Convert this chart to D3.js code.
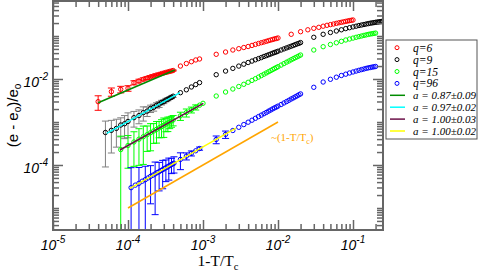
<!DOCTYPE html>
<html>
<head>
<meta charset="utf-8">
<script src="https://cdn.jsdelivr.net/npm/d3@7"></script>
<style>
  html, body { margin: 0; padding: 0; background: #fff; }
  svg { display: block; }
</style>
</head>
<body>
<div id="chart"></div>
<script>
'use strict';

// each point: [1 - T/Tc, (e - eo)/eo, error]
const q6Points = [
    [4e-5, 2.97e-3, 1.1e-3], [6e-5, 5.07e-3, 1.1e-3], [8e-5, 5.75e-3, 1.0e-3], [1e-4, 6.08e-3, 0.9e-3],
    [1.2e-4, 8.2e-3, 0.9e-3], [1.4e-4, 8.98e-3, 0.9e-3], [1.6e-4, 9.84e-3, 0.8e-3], [1.8e-4, 1.055e-2, 0.8e-3],
    [2e-4, 1.125e-2, 0.7e-3], [2.2e-4, 1.186e-2, 0.7e-3], [2.4e-4, 1.24e-2, 0.6e-3], [2.6e-4, 1.285e-2, 0.6e-3],
    [2.8e-4, 1.336e-2, 0.5e-3], [3e-4, 1.38e-2, 0.5e-3], [3.2e-4, 1.424e-2, 0.5e-3], [3.4e-4, 1.462e-2, 0.4e-3],
    [3.6e-4, 1.502e-2, 0.4e-3], [3.8e-4, 1.535e-2, 0.4e-3], [4e-4, 1.577e-2, 0.4e-3],
    [5e-4, 2.0e-2, 0], [6e-4, 2.29e-2, 0], [7e-4, 2.52e-2, 0], [8e-4, 2.77e-2, 0], [9e-4, 2.92e-2, 0],
    [1.5e-3, 3.75e-2, 0], [2e-3, 4.24e-2, 0], [2.5e-3, 4.72e-2, 0], [3e-3, 5.07e-2, 0], [3.5e-3, 5.4e-2, 0],
    [4e-3, 5.7e-2, 0], [4.5e-3, 6.04e-2, 0], [5e-3, 6.38e-2, 0], [5.5e-3, 6.7e-2, 0], [6e-3, 6.99e-2, 0],
    [6.5e-3, 7.25e-2, 0], [7e-3, 7.53e-2, 0], [7.5e-3, 7.81e-2, 0], [8e-3, 8.07e-2, 0], [8.5e-3, 8.3e-2, 0],
    [9e-3, 8.57e-2, 0], [9.5e-3, 8.75e-2, 0], [1e-2, 8.98e-2, 0],
    [1.5e-2, 0.1096, 0], [2e-2, 0.1259, 0], [2.5e-2, 0.1394, 0], [3e-2, 0.151, 0], [3.5e-2, 0.159, 0],
    [4e-2, 0.169, 0], [4.5e-2, 0.1774, 0], [5e-2, 0.184, 0], [5.5e-2, 0.19, 0], [6e-2, 0.197, 0],
    [6.5e-2, 0.203, 0], [7e-2, 0.2083, 0], [7.5e-2, 0.2138, 0], [8e-2, 0.2186, 0], [8.5e-2, 0.2234, 0],
    [9e-2, 0.228, 0], [9.5e-2, 0.232, 0], [0.1, 0.2355, 0]
];

const q9Points = [
    [5e-5, 5.7e-4, 4.8e-4], [6e-5, 6.4e-4, 4.5e-4], [7e-5, 7.1e-4, 4.5e-4], [8e-5, 8.5e-4, 4.0e-4],
    [9e-5, 9.1e-4, 5.0e-4], [1e-4, 1.03e-3, 6.0e-4], [1.2e-4, 1.26e-3, 5.0e-4], [1.4e-4, 1.41e-3, 5.0e-4],
    [1.6e-4, 1.65e-3, 6.0e-4], [1.8e-4, 1.79e-3, 4.5e-4], [2e-4, 2.06e-3, 4.0e-4], [2.2e-4, 2.19e-3, 4.0e-4],
    [2.4e-4, 2.45e-3, 3.5e-4], [2.6e-4, 2.58e-3, 4.0e-4], [2.8e-4, 2.84e-3, 3.5e-4], [3e-4, 2.97e-3, 3.0e-4],
    [3.2e-4, 3.24e-3, 3.0e-4], [3.4e-4, 3.36e-3, 2.5e-4], [3.6e-4, 3.6e-3, 2.5e-4], [3.8e-4, 3.74e-3, 2.5e-4],
    [4e-4, 3.98e-3, 2.5e-4],
    [5e-4, 4.8e-3, 0], [6e-4, 5.61e-3, 0], [7e-4, 6.52e-3, 0], [8e-4, 7.41e-3, 0], [9e-4, 8.24e-3, 0],
    [1.5e-3, 1.259e-2, 0], [2e-3, 1.528e-2, 0], [2.5e-3, 1.766e-2, 0], [3e-3, 1.995e-2, 0], [3.5e-3, 2.21e-2, 0],
    [4e-3, 2.42e-2, 0], [4.5e-3, 2.61e-2, 0], [5e-3, 2.8e-2, 0], [5.5e-3, 2.98e-2, 0], [6e-3, 3.15e-2, 0],
    [6.5e-3, 3.34e-2, 0], [7e-3, 3.5e-2, 0], [7.5e-3, 3.66e-2, 0], [8e-3, 3.81e-2, 0], [8.5e-3, 3.98e-2, 0],
    [9e-3, 4.13e-2, 0], [9.5e-3, 4.27e-2, 0], [1e-2, 4.43e-2, 0],
    [1.1e-2, 4.72e-2, 0], [1.2e-2, 5.01e-2, 0], [1.3e-2, 5.28e-2, 0], [1.4e-2, 5.54e-2, 0], [1.5e-2, 5.79e-2, 0],
    [1.6e-2, 6.04e-2, 0], [1.7e-2, 6.31e-2, 0], [1.8e-2, 6.55e-2, 0], [1.9e-2, 6.76e-2, 0], [2e-2, 7.03e-2, 0],
    [3e-2, 9.33e-2, 0], [4e-2, 0.1095, 0], [5e-2, 0.1206, 0], [6e-2, 0.1307, 0], [7e-2, 0.1394, 0],
    [8e-2, 0.1486, 0], [9e-2, 0.156, 0], [0.1, 0.1627, 0], [0.11, 0.169, 0], [0.12, 0.1754, 0],
    [0.13, 0.1802, 0], [0.14, 0.185, 0], [0.15, 0.1901, 0], [0.16, 0.1942, 0], [0.17, 0.1984, 0],
    [0.18, 0.2017, 0], [0.19, 0.2049, 0], [0.2, 0.2083, 0], [0.21, 0.2105, 0], [0.22, 0.2128, 0],
    [0.23, 0.2151, 0], [0.24, 0.2174, 0], [0.25, 0.2198, 0]
];

const q15Points = [
    [8e-5, 2.28e-4, 2.4e-4], [1e-4, 2.84e-4, 2.0e-4], [1.2e-4, 3.43e-4, 2.5e-4], [1.4e-4, 3.98e-4, 3.0e-4],
    [1.6e-4, 4.53e-4, 3.5e-4], [1.8e-4, 5.07e-4, 3.0e-4], [2e-4, 5.64e-4, 3.5e-4], [2.2e-4, 6.18e-4, 3.0e-4],
    [2.4e-4, 6.73e-4, 3.5e-4], [2.6e-4, 7.3e-4, 3.0e-4], [2.8e-4, 7.82e-4, 3.5e-4], [3e-4, 8.38e-4, 4.0e-4],
    [3.2e-4, 8.93e-4, 3.0e-4], [3.4e-4, 9.48e-4, 3.5e-4], [3.6e-4, 1.0e-3, 3.0e-4], [3.8e-4, 1.055e-3, 3.0e-4],
    [4e-4, 1.113e-3, 3.0e-4],
    [5e-4, 1.387e-3, 3.0e-4], [6e-4, 1.655e-3, 3.5e-4], [7e-4, 1.922e-3, 3.0e-4], [8e-4, 2.2e-3, 3.0e-4],
    [9e-4, 2.46e-3, 0], [1e-3, 2.72e-3, 0],
    [1.5e-3, 4.02e-3, 0], [2e-3, 4.98e-3, 0], [2.5e-3, 5.85e-3, 0], [3e-3, 6.69e-3, 0], [3.5e-3, 7.53e-3, 0],
    [4e-3, 8.38e-3, 0], [4.5e-3, 9.28e-3, 0], [5e-3, 1.016e-2, 0], [5.5e-3, 1.107e-2, 0], [6e-3, 1.2e-2, 0],
    [6.5e-3, 1.293e-2, 0], [7e-3, 1.386e-2, 0], [7.5e-3, 1.478e-2, 0], [8e-3, 1.568e-2, 0], [8.5e-3, 1.663e-2, 0],
    [9e-3, 1.755e-2, 0], [9.5e-3, 1.841e-2, 0], [1e-2, 1.932e-2, 0],
    [1.1e-2, 2.105e-2, 0], [1.2e-2, 2.28e-2, 0], [1.3e-2, 2.46e-2, 0], [1.4e-2, 2.62e-2, 0], [1.5e-2, 2.8e-2, 0],
    [1.6e-2, 2.97e-2, 0], [1.7e-2, 3.13e-2, 0], [1.8e-2, 3.28e-2, 0], [1.9e-2, 3.44e-2, 0], [2e-2, 3.61e-2, 0],
    [3e-2, 4.72e-2, 0], [4e-2, 5.64e-2, 0], [5e-2, 6.34e-2, 0], [6e-2, 6.95e-2, 0], [7e-2, 7.52e-2, 0],
    [8e-2, 8.07e-2, 0], [9e-2, 8.51e-2, 0], [0.1, 8.94e-2, 0], [0.11, 9.33e-2, 0], [0.12, 9.68e-2, 0],
    [0.13, 0.1, 0], [0.14, 0.1033, 0], [0.15, 0.1061, 0], [0.16, 0.1089, 0], [0.17, 0.1113, 0],
    [0.18, 0.1131, 0], [0.19, 0.1149, 0], [0.2, 0.1168, 0]
];

const q96Points = [
    [1.1e-4, 2.97e-5, 5.7e-5], [1.25e-4, 3.4e-5, 0], [1.4e-4, 3.75e-5, 5.0e-5], [1.55e-4, 4.2e-5, 0],
    [1.7e-4, 4.55e-5, 4.8e-5], [1.85e-4, 5.0e-5, 0], [2e-4, 5.45e-5, 4.2e-5], [2.15e-4, 5.8e-5, 0],
    [2.3e-4, 6.2e-5, 5.5e-5], [2.45e-4, 6.65e-5, 0], [2.6e-4, 7.0e-5, 4.5e-5], [2.75e-4, 7.45e-5, 0],
    [2.9e-4, 7.8e-5, 5.0e-5], [3.05e-4, 8.25e-5, 0], [3.2e-4, 8.6e-5, 4.5e-5], [3.35e-4, 9.05e-5, 0],
    [3.5e-4, 9.45e-5, 5.0e-5], [3.65e-4, 9.85e-5, 0], [3.8e-4, 1.03e-4, 4.0e-5], [3.95e-4, 1.07e-4, 0],
    [4.1e-4, 1.1e-4, 4.5e-5],
    [5e-4, 1.349e-4, 5.7e-5], [6e-4, 1.61e-4, 3.0e-5], [7e-4, 1.87e-4, 2.5e-5], [8e-4, 2.14e-4, 0],
    [9e-4, 2.41e-4, 2.0e-5],
    [1.5e-3, 3.92e-4, 8e-5], [2e-3, 5.15e-4, 1.0e-4], [2.5e-3, 6.34e-4, 0], [3e-3, 7.53e-4, 0], [3.5e-3, 8.71e-4, 0],
    [4e-3, 9.89e-4, 0], [4.5e-3, 1.101e-3, 0], [5e-3, 1.219e-3, 0], [5.5e-3, 1.336e-3, 0], [6e-3, 1.445e-3, 0],
    [6.5e-3, 1.559e-3, 0], [7e-3, 1.671e-3, 0], [7.5e-3, 1.791e-3, 0], [8e-3, 1.9e-3, 0], [8.5e-3, 2.02e-3, 0],
    [9e-3, 2.13e-3, 0], [9.5e-3, 2.23e-3, 0], [1e-2, 2.34e-3, 0],
    [1.1e-2, 2.55e-3, 0], [1.2e-2, 2.77e-3, 0], [1.3e-2, 2.98e-3, 0], [1.4e-2, 3.2e-3, 0], [1.5e-2, 3.43e-3, 0],
    [1.6e-2, 3.63e-3, 0], [1.7e-2, 3.85e-3, 0], [1.8e-2, 4.06e-3, 0], [1.9e-2, 4.29e-3, 0], [2e-2, 4.5e-3, 0],
    [3e-2, 6.41e-3, 0], [4e-2, 8.51e-3, 0], [5e-2, 9.84e-3, 0], [6e-2, 1.101e-2, 0], [7e-2, 1.206e-2, 0],
    [8e-2, 1.294e-2, 0], [9e-2, 1.38e-2, 0], [0.1, 1.456e-2, 0], [0.11, 1.528e-2, 0], [0.12, 1.594e-2, 0],
    [0.13, 1.655e-2, 0], [0.14, 1.709e-2, 0], [0.15, 1.766e-2, 0], [0.16, 1.813e-2, 0], [0.17, 1.851e-2, 0],
    [0.18, 1.891e-2, 0], [0.19, 1.922e-2, 0], [0.2, 1.954e-2, 0]
];

const seriesNames = ['q=6', 'q=9', 'q=15', 'q=96'];
const seriesColours = ['#ff0000', '#000000', '#00ff00', '#0000ff'];
const barColours = ['#ff0000', '#808080', '#00ff00', '#0000ff'];
const seriesPoints = [q6Points, q9Points, q15Points, q96Points];

// power-law fits drawn over the low end of each set: [start, end] as [t, value]
const fitLabels = ['a = 0.87±0.09', 'a = 0.97±0.02', 'a = 1.00±0.03', 'a = 1.00±0.02'];
const fitColours = ['#008b00', '#00ffff', '#6b1048', '#ffff00'];
const fitEnds = [
    [[4.0e-5, 2.81e-3], [4.2e-4, 1.62e-2]],
    [[5.2e-5, 5.46e-4], [4.93e-4, 4.8e-3]],
    [[7.8e-5, 2.23e-4], [1.01e-3, 2.72e-3]],
    [[1.06e-4, 2.87e-5], [2.75e-3, 7.18e-4]]
];

// reference slope ~(1-T/Tc)
const guideEnds = [[1e-4, 1e-5], [1e-2, 1e-3]];

const xLabelDecades = [-5, -4, -3, -2, -1];
const yLabelDecades = [-4, -2];

const plot = { left: 53, right: 383, top: 1, bottom: 230 };
const frameColour = '#666666';
const sans = 'Liberation Sans, Arial, Helvetica, sans-serif';
const serif = 'Liberation Serif, Times New Roman, serif';

const svg = d3.select('#chart')
    .append('svg')
    .attr('width', 478)
    .attr('height', 274);

const x = d3.scaleLog()
    .domain([1e-5, Math.pow(10, -0.6)])
    .range([plot.left, plot.right]);

const y = d3.scaleLog()
    .domain([Math.pow(10, -5.512), Math.pow(10, -0.186)])
    .range([plot.bottom, plot.top]);

svg.append('defs')
    .append('clipPath')
    .attr('id', 'plot-clip')
    .append('rect')
    .attr('x', plot.left)
    .attr('y', plot.top)
    .attr('width', plot.right - plot.left)
    .attr('height', plot.bottom - plot.top);

const data = svg.append('g').attr('clip-path', 'url(#plot-clip)');

// error bars first, symbols on top
seriesPoints.forEach(function (points, i) {
    const withBars = points.filter(function (d) { return d[2] > 0; });
    const bars = data.append('g')
        .attr('stroke', barColours[i])
        .attr('stroke-width', 1)
        .attr('fill', 'none');

    withBars.forEach(function (d) {
        const cx = x(d[0]);
        const top = y(d[1] + d[2]);
        const low = d[1] - d[2];
        const clipped = low <= y.domain()[0];
        const bottom = clipped ? plot.bottom + 2 : y(low);

        bars.append('line')
            .attr('x1', cx).attr('x2', cx)
            .attr('y1', top).attr('y2', bottom);
        bars.append('line')
            .attr('x1', cx - 3.5).attr('x2', cx + 3.5)
            .attr('y1', top).attr('y2', top);
        if (!clipped) {
            bars.append('line')
                .attr('x1', cx - 3.5).attr('x2', cx + 3.5)
                .attr('y1', bottom).attr('y2', bottom);
        }
    });
});

seriesPoints.forEach(function (points, i) {
    data.append('g')
        .selectAll('circle')
        .data(points)
        .join('circle')
        .attr('cx', function (d) { return x(d[0]); })
        .attr('cy', function (d) { return y(d[1]); })
        .attr('r', 2.2)
        .attr('fill', 'none')
        .attr('stroke', seriesColours[i])
        .attr('stroke-width', 1);
});

const lineGen = d3.line()
    .x(function (d) { return x(d[0]); })
    .y(function (d) { return y(d[1]); });

data.selectAll('path.fit')
    .data(fitEnds)
    .join('path')
    .attr('class', 'fit')
    .attr('fill', 'none')
    .attr('stroke', function (d, i) { return fitColours[i]; })
    .attr('stroke-width', 1.5)
    .attr('d', lineGen);

data.append('path')
    .attr('fill', 'none')
    .attr('stroke', '#ffa500')
    .attr('stroke-width', 1.5)
    .attr('d', lineGen(guideEnds));

const guideText = svg.append('text')
    .attr('x', 271)
    .attr('y', 141)
    .attr('font-family', serif)
    .attr('font-size', 11)
    .attr('fill', '#ffa500');
guideText.append('tspan').text('~(1-T/T');
guideText.append('tspan').attr('dy', 3).attr('font-size', 8).text('c');
guideText.append('tspan').attr('dy', -3).text(')');

// ticks on all four sides, pointing inward
function logMinors(domain, majors) {
    const ticks = [];
    for (let k = -7; k <= 0; k++) {
        for (let m = 1; m <= 9; m++) {
            const v = m * Math.pow(10, k);
            const isMajor = majors.some(function (M) { return Math.abs(M / v - 1) < 1e-6; });
            if (v >= domain[0] && v <= domain[1] && !isMajor) ticks.push(v);
        }
    }
    return ticks;
}

const xMajors = xLabelDecades.map(function (d) { return Math.pow(10, d); });
const yMajors = yLabelDecades.map(function (d) { return Math.pow(10, d); });
const xMinors = logMinors(x.domain(), xMajors);
const yMinors = logMinors(y.domain(), yMajors);

function drawTicks(axis, transform, values, size) {
    svg.append('g')
        .attr('transform', transform)
        .call(axis.tickValues(values).tickSize(size).tickFormat(''))
        .call(function (g) { g.select('.domain').remove(); })
        .call(function (g) {
            g.selectAll('line')
                .attr('stroke', frameColour)
                .attr('stroke-width', 1.5);
        });
}

drawTicks(d3.axisBottom(x), `translate(0,${plot.bottom})`, xMinors, -6);
drawTicks(d3.axisBottom(x), `translate(0,${plot.bottom})`, xMajors, -10);
drawTicks(d3.axisTop(x), `translate(0,${plot.top})`, xMinors, -6);
drawTicks(d3.axisTop(x), `translate(0,${plot.top})`, xMajors, -10);
drawTicks(d3.axisLeft(y), `translate(${plot.left},0)`, yMinors, -6);
drawTicks(d3.axisLeft(y), `translate(${plot.left},0)`, yMajors, -10);
drawTicks(d3.axisRight(y), `translate(${plot.right},0)`, yMinors, -6);
drawTicks(d3.axisRight(y), `translate(${plot.right},0)`, yMajors, -10);

svg.append('rect')
    .attr('x', plot.left)
    .attr('y', plot.top)
    .attr('width', plot.right - plot.left)
    .attr('height', plot.bottom - plot.top)
    .attr('fill', 'none')
    .attr('stroke', frameColour)
    .attr('stroke-width', 2);

// tick labels as 10^n
function powerLabel(sel) {
    sel.each(function (d) {
        const t = d3.select(this);
        t.append('tspan').text('10');
        t.append('tspan').attr('dy', -7).attr('font-size', 10).text(String(d));
    });
}

svg.selectAll('text.x-tick')
    .data(xLabelDecades)
    .join('text')
    .attr('class', 'x-tick')
    .attr('x', function (d) { return x(Math.pow(10, d)); })
    .attr('y', 250)
    .attr('text-anchor', 'middle')
    .attr('font-family', sans)
    .attr('font-style', 'italic')
    .attr('font-size', 14)
    .call(powerLabel);

svg.selectAll('text.y-tick')
    .data(yLabelDecades)
    .join('text')
    .attr('class', 'y-tick')
    .attr('x', 48)
    .attr('y', function (d) { return y(Math.pow(10, d)) + 8; })
    .attr('text-anchor', 'end')
    .attr('font-family', sans)
    .attr('font-style', 'italic')
    .attr('font-size', 14)
    .call(powerLabel);

// axis titles
const xTitle = svg.append('text')
    .attr('x', (plot.left + plot.right) / 2)
    .attr('y', 266)
    .attr('text-anchor', 'middle')
    .attr('font-family', serif)
    .attr('font-size', 15.5);
xTitle.append('tspan').text('1-T/T');
xTitle.append('tspan').attr('dy', 4).attr('font-size', 10.5).text('c');

const yTitle = svg.append('text')
    .attr('transform', `translate(18,${(plot.top + plot.bottom) / 2}) rotate(-90)`)
    .attr('text-anchor', 'middle')
    .attr('font-family', sans)
    .attr('font-size', 15);
yTitle.append('tspan').text('(e - e');
yTitle.append('tspan').attr('dy', 3).attr('font-size', 10).text('o');
yTitle.append('tspan').attr('dy', -3).text(')/e');
yTitle.append('tspan').attr('dy', 3).attr('font-size', 10).text('o');

// legend
const legend = svg.append('g');
legend.append('rect')
    .attr('x', 386)
    .attr('y', 40)
    .attr('width', 91)
    .attr('height', 99)
    .attr('fill', '#fff')
    .attr('stroke', '#555')
    .attr('stroke-width', 1);

const rowY = function (i) { return 47.7 + i * 11.9; };

seriesNames.forEach(function (name, i) {
    legend.append('circle')
        .attr('cx', 397)
        .attr('cy', rowY(i))
        .attr('r', 2)
        .attr('fill', 'none')
        .attr('stroke', seriesColours[i])
        .attr('stroke-width', 1);
    legend.append('text')
        .attr('x', 413)
        .attr('y', rowY(i) + 4)
        .attr('font-family', serif)
        .attr('font-style', 'italic')
        .attr('font-size', 11.5)
        .text(name);
});

fitLabels.forEach(function (label, i) {
    const yy = rowY(i + 4);
    legend.append('line')
        .attr('x1', 390).attr('x2', 405)
        .attr('y1', yy).attr('y2', yy)
        .attr('stroke', fitColours[i])
        .attr('stroke-width', 1.5);
    legend.append('text')
        .attr('x', 413)
        .attr('y', yy + 4)
        .attr('font-family', serif)
        .attr('font-style', 'italic')
        .attr('font-size', 11)
        .text(label);
});
</script>
</body>
</html>
